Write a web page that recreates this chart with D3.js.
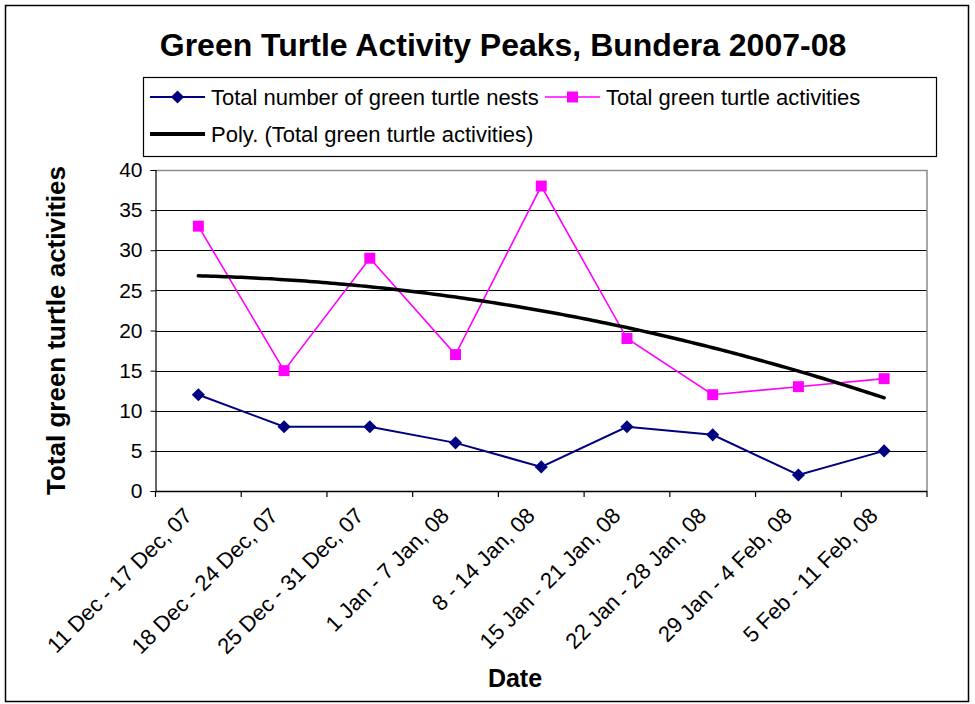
<!DOCTYPE html>
<html>
<head>
<meta charset="utf-8">
<script src="https://cdn.jsdelivr.net/npm/d3@7"></script>
<style>
  html, body { margin: 0; padding: 0; background: #fff; }
  svg { display: block; font-family: "Liberation Sans", Arial, sans-serif; }
</style>
</head>
<body>
<svg id="chart" width="975" height="704"></svg>
<script>
// Weekly survey periods
const categories = [
  "11 Dec - 17 Dec, 07",
  "18 Dec - 24 Dec, 07",
  "25 Dec - 31 Dec, 07",
  "1 Jan - 7 Jan, 08",
  "8 - 14 Jan, 08",
  "15 Jan - 21 Jan, 08",
  "22 Jan - 28 Jan, 08",
  "29 Jan - 4 Feb, 08",
  "5 Feb - 11 Feb, 08"
];
const nests = [12, 8, 8, 6, 3, 8, 7, 2, 5];
const activities = [33, 15, 29, 17, 38, 19, 12, 13, 14];
const yTicks = [0, 5, 10, 15, 20, 25, 30, 35, 40];

const titleText = "Green Turtle Activity Peaks, Bundera 2007-08";
const nestsLabel = "Total number of green turtle nests";
const activitiesLabel = "Total green turtle activities";
const trendLabel = "Poly. (Total green turtle activities)";
const yTitle = "Total green turtle activities";
const xTitle = "Date";

const NAVY = "#000080", MAGENTA = "#FF00FF";

const svg = d3.select("#chart");

// Chart frame
svg.append("rect")
  .attr("x", 5.5).attr("y", 5.5).attr("width", 963).attr("height", 696)
  .attr("fill", "#fff").attr("stroke", "#000").attr("stroke-width", 1.5);

// Title
svg.append("text")
  .attr("x", 503).attr("y", 56)
  .attr("text-anchor", "middle")
  .attr("font-size", 32).attr("font-weight", "bold")
  .text(titleText);

// Plot area
const plot = { left: 155.5, right: 927, top: 170, bottom: 491 };

const x = d3.scaleBand().domain(categories).range([plot.left, plot.right]).paddingInner(0).paddingOuter(0);
const y = d3.scaleLinear().domain([0, 40]).range([plot.bottom, plot.top]);
const cx = c => x(c) + x.bandwidth() / 2;
// continuous index scale for the trendline
const xi = d3.scaleLinear().domain([0, categories.length - 1])
  .range([cx(categories[0]), cx(categories[categories.length - 1])]);

// Gridlines
svg.append("g").selectAll("line")
  .data(yTicks.filter(t => t > 0 && t < 40))
  .join("line")
  .attr("x1", plot.left).attr("x2", plot.right)
  .attr("y1", d => Math.round(y(d)) + 0.5).attr("y2", d => Math.round(y(d)) + 0.5)
  .attr("stroke", "#000").attr("stroke-width", 1);

// Plot border (top & right, grey)
svg.append("path")
  .attr("d", `M${plot.left},${plot.top + 0.5}H${plot.right}V${plot.bottom}`)
  .attr("fill", "none").attr("stroke", "#8c8c8c").attr("stroke-width", 1.5);

// Y axis
const yAxis = svg.append("g").attr("transform", `translate(${plot.left},0)`)
  .call(d3.axisLeft(y).tickValues(yTicks).tickSize(5).tickPadding(8));
yAxis.select(".domain").attr("stroke", "#000").attr("stroke-width", 1.2);
yAxis.selectAll(".tick line").attr("stroke", "#000");
yAxis.selectAll(".tick text")
  .attr("font-family", "Liberation Sans, Arial, sans-serif")
  .attr("font-size", 21).attr("fill", "#000");

// X axis line and ticks at category boundaries
const boundaries = categories.map(c => x(c)).concat([x(categories[categories.length - 1]) + x.bandwidth()]);
svg.append("line")
  .attr("x1", plot.left).attr("x2", plot.right)
  .attr("y1", plot.bottom + 0.5).attr("y2", plot.bottom + 0.5)
  .attr("stroke", "#000").attr("stroke-width", 1.5);
svg.append("g").selectAll("line").data(boundaries).join("line")
  .attr("x1", d => d).attr("x2", d => d)
  .attr("y1", plot.bottom).attr("y2", plot.bottom + 6)
  .attr("stroke", "#000").attr("stroke-width", 1.2);

// X tick labels, rotated
svg.append("g").selectAll("text").data(categories).join("text")
  .attr("transform", d => `translate(${cx(d) - 5},${plot.bottom + 26}) rotate(-45)`)
  .attr("text-anchor", "end")
  .attr("font-size", 22)
  .text(d => d);

// Axis titles
svg.append("text")
  .attr("transform", `translate(65,${(plot.top + plot.bottom) / 2}) rotate(-90)`)
  .attr("text-anchor", "middle")
  .attr("font-size", 26).attr("font-weight", "bold")
  .text(yTitle);
svg.append("text")
  .attr("x", 515).attr("y", 687)
  .attr("text-anchor", "middle")
  .attr("font-size", 25).attr("font-weight", "bold")
  .text(xTitle);

// Second-order polynomial least-squares fit of activities
function polyFit2(ys) {
  const xs = ys.map((_, i) => i);
  let s = [0, 0, 0, 0, 0], t = [0, 0, 0];
  xs.forEach((xv, i) => {
    for (let k = 0; k <= 4; k++) s[k] += Math.pow(xv, k);
    for (let k = 0; k <= 2; k++) t[k] += Math.pow(xv, k) * ys[i];
  });
  const M = [[s[0], s[1], s[2], t[0]], [s[1], s[2], s[3], t[1]], [s[2], s[3], s[4], t[2]]];
  for (let i = 0; i < 3; i++) {
    for (let j = i + 1; j < 3; j++) {
      const f = M[j][i] / M[i][i];
      for (let k = i; k < 4; k++) M[j][k] -= f * M[i][k];
    }
  }
  const c = [0, 0, 0];
  for (let i = 2; i >= 0; i--) {
    let v = M[i][3];
    for (let k = i + 1; k < 3; k++) v -= M[i][k] * c[k];
    c[i] = v / M[i][i];
  }
  return xv => c[0] + c[1] * xv + c[2] * xv * xv;
}
const trend = polyFit2(activities);
const trendPts = d3.range(0, categories.length - 1 + 1e-9, 0.05).map(v => [v, trend(v)]);

// Activities series
svg.append("path")
  .datum(activities)
  .attr("fill", "none").attr("stroke", MAGENTA).attr("stroke-width", 1.6)
  .attr("d", d3.line().x((d, i) => cx(categories[i])).y(d => y(d)));

// Nests series
svg.append("path")
  .datum(nests)
  .attr("fill", "none").attr("stroke", NAVY).attr("stroke-width", 2)
  .attr("d", d3.line().x((d, i) => cx(categories[i])).y(d => y(d)));

// Trendline
svg.append("path")
  .datum(trendPts)
  .attr("fill", "none").attr("stroke", "#000").attr("stroke-width", 3.5)
  .attr("stroke-linecap", "round")
  .attr("d", d3.line().x(d => xi(d[0])).y(d => y(d[1])));

// Markers
const diamond = d3.symbol().type(d3.symbolDiamond2).size(110);
const square = d3.symbol().type(d3.symbolSquare).size(120);

svg.append("g").selectAll("path").data(activities).join("path")
  .attr("transform", (d, i) => `translate(${cx(categories[i])},${y(d)})`)
  .attr("d", square).attr("fill", MAGENTA);

svg.append("g").selectAll("path").data(nests).join("path")
  .attr("transform", (d, i) => `translate(${cx(categories[i])},${y(d)})`)
  .attr("d", diamond).attr("fill", NAVY);

// Legend
const legend = svg.append("g");
legend.append("rect")
  .attr("x", 143.5).attr("y", 77.5).attr("width", 793).attr("height", 79)
  .attr("fill", "#fff").attr("stroke", "#000").attr("stroke-width", 1.2);

function legendItem(x0, yRow, color, width, marker, label) {
  legend.append("line")
    .attr("x1", x0).attr("x2", x0 + 55).attr("y1", yRow).attr("y2", yRow)
    .attr("stroke", color).attr("stroke-width", width);
  if (marker) {
    legend.append("path")
      .attr("transform", `translate(${x0 + 27.5},${yRow})`)
      .attr("d", marker).attr("fill", color);
  }
  legend.append("text")
    .attr("x", x0 + 61).attr("y", yRow + 8)
    .attr("font-size", 22)
    .text(label);
}
legendItem(150, 97, NAVY, 2, diamond, nestsLabel);
legendItem(545, 97, MAGENTA, 1.6, square, activitiesLabel);
legendItem(150, 134, "#000", 4, null, trendLabel);
</script>
</body>
</html>
